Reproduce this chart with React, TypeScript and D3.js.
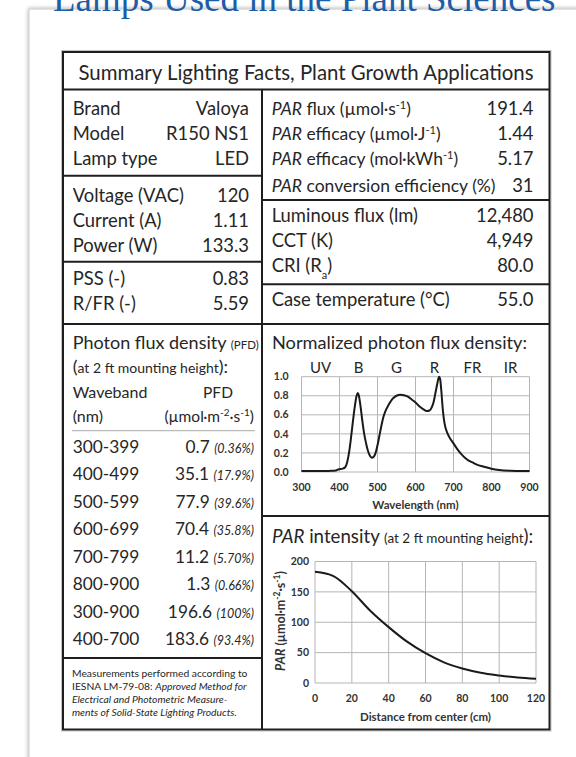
import React from 'react';
import * as d3 from 'd3';

// Lighting facts label for a Valoya R150 NS1 lamp

const lampLabels = ['Brand', 'Model', 'Lamp type'];
const lampValues = ['Valoya', 'R150 NS1', 'LED'];
const electricLabels = ['Voltage (VAC)', 'Current (A)', 'Power (W)'];
const electricValues = ['120', '1.11', '133.3'];
const ratioLabels = ['PSS (-)', 'R/FR (-)'];
const ratioValues = ['0.83', '5.59'];
const parValues = ['191.4', '1.44', '5.17', '31'];
const lightLabels = ['Luminous flux (lm)', 'CCT (K)'];
const lightValues = ['12,480', '4,949', '80.0'];
const caseValue = '55.0';

const wavebands = ['300-399', '400-499', '500-599', '600-699', '700-799', '800-900', '300-900', '400-700'];
const pfdValues = ['0.7', '35.1', '77.9', '70.4', '11.2', '1.3', '196.6', '183.6'];
const pfdShares = ['0.36%', '17.9%', '39.6%', '35.8%', '5.70%', '0.66%', '100%', '93.4%'];

const bandNames = ['UV', 'B', 'G', 'R', 'FR', 'IR'];
const bandCenters = [350, 450, 550, 650, 750, 850];
const wavelengths = [300, 320, 340, 360, 380, 390, 395, 400, 408, 415, 420, 425, 430, 435, 440, 445, 448, 451, 455, 460, 465, 470, 475, 480, 485, 490, 495, 500, 505, 510, 515, 520, 530, 540, 550, 560, 570, 580, 590, 600, 610, 620, 630, 637, 643, 648, 653, 658, 662, 665, 668, 672, 676, 680, 690, 700, 710, 720, 730, 740, 750, 760, 780, 800, 820, 850, 880, 900];
const photonFlux = [0.01, 0.01, 0.01, 0.01, 0.012, 0.015, 0.025, 0.03, 0.035, 0.05, 0.1, 0.2, 0.35, 0.52, 0.68, 0.8, 0.83, 0.8, 0.7, 0.54, 0.4, 0.3, 0.22, 0.17, 0.15, 0.16, 0.2, 0.28, 0.38, 0.48, 0.57, 0.63, 0.71, 0.77, 0.8, 0.81, 0.805, 0.79, 0.76, 0.73, 0.69, 0.66, 0.64, 0.645, 0.68, 0.74, 0.84, 0.94, 1.0, 0.97, 0.85, 0.65, 0.52, 0.45, 0.36, 0.3, 0.24, 0.19, 0.15, 0.12, 0.1, 0.08, 0.055, 0.035, 0.022, 0.013, 0.01, 0.01];
const wavelengthTicks = [300, 400, 500, 600, 700, 800, 900];
const fluxTicks = [0, 0.2, 0.4, 0.6, 0.8, 1.0];

const distances = [0, 10, 20, 30, 40, 50, 60, 70, 80, 90, 100, 110, 120];
const parIntensity = [183, 176, 151, 119, 92, 68, 49, 34, 24, 17, 12.5, 9, 7];
const distanceTicks = [0, 20, 40, 60, 80, 100, 120];
const parTicks = [0, 50, 100, 150, 200];

const FONT = 'Lato, "Open Sans", sans-serif';
const INK = '#262626';
const GRID = '#b5b5b5';

const Sup = ({ t, s = 11 }: { t: string; s?: number }) => (
  <tspan baselineShift="super" fontSize={s}>{t}</tspan>
);

export default function App() {
  const specX = d3.scaleLinear().domain([300, 900]).range([301.5, 529.5]);
  const specY = d3.scaleLinear().domain([0, 1]).range([472, 376.7]);
  const parX = d3.scaleLinear().domain([0, 120]).range([315, 536]);
  const parY = d3.scaleLinear().domain([0, 200]).range([683, 561.5]);

  const specLine = d3
    .line<number>()
    .x((d, i) => specX(wavelengths[i]))
    .y(d => specY(d))
    .curve(d3.curveMonotoneX);
  const parLine = d3
    .line<number>()
    .x((d, i) => parX(distances[i]))
    .y(d => parY(d))
    .curve(d3.curveMonotoneX);

  const L = 63, R = 549.5, T = 52, B = 729.5, MID = 262;
  const rowY = [115, 140, 165, 191.7];

  return (
    <svg width={576} height={757} style={{ position: 'absolute', left: 0, top: 0 }} fontFamily={FONT}>
      <defs>
        <filter id="card" x="-5%" y="-5%" width="110%" height="110%">
          <feDropShadow dx="0" dy="0" stdDeviation="2" floodColor="#000" floodOpacity="0.35" />
        </filter>
      </defs>
      <rect width={576} height={757} fill="#fff" />
      {/* page card */}
      <rect x={29} y={9} width={620} height={800} fill="#fff" stroke="#c9c9c9" filter="url(#card)" />
      <text x={53} y={11} fontFamily='"Liberation Serif", serif' fontSize={37} fill="#1d5da8">
        Lamps Used in the Plant Sciences
      </text>

      {/* label frame */}
      <rect x={L - 1.5} y={T - 1.5} width={R - L + 3} height={B - T + 3} fill="none" stroke="#c4c4c4" strokeWidth={1} />
      <rect x={L} y={T} width={R - L} height={B - T} fill="#fff" stroke="#1e1e1e" strokeWidth={2} />
      <g stroke="#1e1e1e" strokeWidth={2}>
        <line x1={L} x2={R} y1={89.5} y2={89.5} />
        <line x1={MID} x2={MID} y1={89.5} y2={B} />
        <line x1={L} x2={MID} y1={175.7} y2={175.7} />
        <line x1={L} x2={MID} y1={261.7} y2={261.7} />
        <line x1={MID} x2={R} y1={200} y2={200} />
        <line x1={MID} x2={R} y1={284.3} y2={284.3} />
        <line x1={L} x2={R} y1={324} y2={324} />
        <line x1={MID} x2={R} y1={516} y2={516} />
        <line x1={L} x2={MID} y1={658} y2={658} />
      </g>

      <g fill={INK} fontSize={18.4}>
        <text x={306} y={80} textAnchor="middle" fontSize={20.4}>
          Summary Lighting Facts, Plant Growth Applications
        </text>

        {/* left column */}
        {lampLabels.map((d, i) => (
          <g key={d}>
            <text x={72.7} y={115 + i * 25}>{d}</text>
            <text x={249} y={115 + i * 25} textAnchor="end">{lampValues[i]}</text>
          </g>
        ))}
        {electricLabels.map((d, i) => (
          <g key={d}>
            <text x={72.7} y={201.7 + i * 25}>{d}</text>
            <text x={249} y={201.7 + i * 25} textAnchor="end">{electricValues[i]}</text>
          </g>
        ))}
        {ratioLabels.map((d, i) => (
          <g key={d}>
            <text x={72.7} y={285 + i * 25}>{d}</text>
            <text x={249} y={285 + i * 25} textAnchor="end">{ratioValues[i]}</text>
          </g>
        ))}

        {/* right column */}
        <g fontSize={17.5}>
          <text x={271.7} y={rowY[0]}>
            <tspan fontStyle="italic">PAR</tspan> flux (µmol·s<Sup t="-1" />)
          </text>
          <text x={271.7} y={rowY[1]}>
            <tspan fontStyle="italic">PAR</tspan> efficacy (µmol·J<Sup t="-1" />)
          </text>
          <text x={271.7} y={rowY[2]}>
            <tspan fontStyle="italic">PAR</tspan> efficacy (mol·kWh<Sup t="-1" />)
          </text>
          <text x={271.7} y={rowY[3]}>
            <tspan fontStyle="italic">PAR</tspan> conversion efficiency (%)
          </text>
          {parValues.map((d, i) => (
            <text key={i} x={533.5} y={rowY[i]} textAnchor="end" fontSize={18.4}>{d}</text>
          ))}
          {lightLabels.map((d, i) => (
            <text key={d} x={271.7} y={221.7 + i * 25} fontSize={18.4}>{d}</text>
          ))}
          <text x={271.7} y={271.7} fontSize={18.4}>
            CRI (R<tspan baselineShift="sub" fontSize={11}>a</tspan>)
          </text>
          {lightValues.map((d, i) => (
            <text key={i} x={533.5} y={221.7 + i * 25} textAnchor="end" fontSize={18.4}>{d}</text>
          ))}
          <text x={271.7} y={305.7} fontSize={18.4}>Case temperature (°C)</text>
          <text x={533.5} y={305.7} textAnchor="end" fontSize={18.4}>{caseValue}</text>
        </g>

        {/* photon flux density table */}
        <text x={72.7} y={349} fontSize={18}>
          Photon flux density <tspan fontSize={11.5}>(PFD)</tspan>
        </text>
        <text x={72.7} y={373} fontSize={18}>
          (<tspan fontSize={14}>at 2 ft mounting height</tspan>):
        </text>
        <text x={72.7} y={398} fontSize={16}>Waveband</text>
        <text x={72.7} y={422} fontSize={16}>(nm)</text>
        <text x={218} y={398} fontSize={15.5} textAnchor="middle">PFD</text>
        <text x={254} y={422} fontSize={15.5} textAnchor="end">
          (µmol·m<Sup t="-2" s={10} />·s<Sup t="-1" s={10} />)
        </text>
        <line x1={72} x2={255} y1={430.7} y2={430.7} stroke="#aaa" strokeWidth={1} />
        {wavebands.map((d, i) => (
          <g key={d} fontSize={17.3}>
            <text x={72.7} y={452.5 + i * 27.5}>{d}</text>
            <text x={254} y={452.5 + i * 27.5} textAnchor="end">
              {pfdValues[i]} <tspan fontSize={12.5} fontStyle="italic">({pfdShares[i]})</tspan>
            </text>
          </g>
        ))}

        {/* footnote */}
        <g fontSize={10.3}>
          <text x={72} y={677}>Measurements performed according to</text>
          <text x={72} y={690}>
            IESNA LM-79-08: <tspan fontStyle="italic">Approved Method for</tspan>
          </text>
          <text x={72} y={703} fontStyle="italic">Electrical and Photometric Measure-</text>
          <text x={72} y={716} fontStyle="italic">ments of Solid-State Lighting Products.</text>
        </g>
      </g>

      {/* normalized spectrum */}
      <g fill={INK}>
        <text x={272} y={349} fontSize={18.2}>Normalized photon flux density:</text>
        {bandNames.map((d, i) => (
          <text key={d} x={specX(bandCenters[i])} y={373} fontSize={15} textAnchor="middle">{d}</text>
        ))}
        <g stroke={GRID} strokeWidth={1}>
          {wavelengthTicks.map(t => (
            <line key={t} x1={specX(t)} x2={specX(t)} y1={specY(1)} y2={specY(0)} />
          ))}
          {fluxTicks.map(t => (
            <line key={t} x1={specX(300)} x2={specX(900)} y1={specY(t)} y2={specY(t)} />
          ))}
        </g>
        <g fontSize={10.5} fontWeight="bold" fill="#333">
          {fluxTicks.map(t => (
            <text key={t} x={288.5} y={specY(t)} dy="0.35em" textAnchor="end">{t.toFixed(1)}</text>
          ))}
          {wavelengthTicks.map(t => (
            <text key={t} x={specX(t)} y={490.5} textAnchor="middle">{t}</text>
          ))}
          <text x={415.5} y={509} fontSize={11.5} textAnchor="middle">Wavelength (nm)</text>
        </g>
        <path d={specLine(photonFlux) || ''} fill="none" stroke="#1a1a1a" strokeWidth={2} />
      </g>

      {/* PAR intensity */}
      <g fill={INK}>
        <text x={272} y={543} fontSize={18.7}>
          <tspan fontStyle="italic">PAR</tspan> intensity <tspan fontSize={13.5}>(at 2 ft mounting height</tspan>):
        </text>
        <g stroke={GRID} strokeWidth={1}>
          {distanceTicks.map(t => (
            <line key={t} x1={parX(t)} x2={parX(t)} y1={parY(200)} y2={parY(0)} />
          ))}
          {parTicks.map(t => (
            <line key={t} x1={parX(0)} x2={parX(120)} y1={parY(t)} y2={parY(t)} />
          ))}
        </g>
        <g fontSize={10.5} fontWeight="bold" fill="#333">
          {parTicks.map(t => (
            <text key={t} x={309} y={parY(t)} dy="0.35em" textAnchor="end">{t}</text>
          ))}
          {distanceTicks.map(t => (
            <text key={t} x={parX(t)} y={702} textAnchor="middle">{t}</text>
          ))}
          <text x={425.5} y={721} fontSize={11.5} textAnchor="middle">Distance from center (cm)</text>
          <text transform="translate(285,621) rotate(-90)" fontSize={12.5} textAnchor="middle">
            <tspan fontStyle="italic">PAR</tspan> (µmol·m<tspan baselineShift="super" fontSize={8.5}>-2</tspan>·s<tspan baselineShift="super" fontSize={8.5}>-1</tspan>)
          </text>
        </g>
        <path d={parLine(parIntensity) || ''} fill="none" stroke="#1a1a1a" strokeWidth={2} />
      </g>
    </svg>
  );
}
